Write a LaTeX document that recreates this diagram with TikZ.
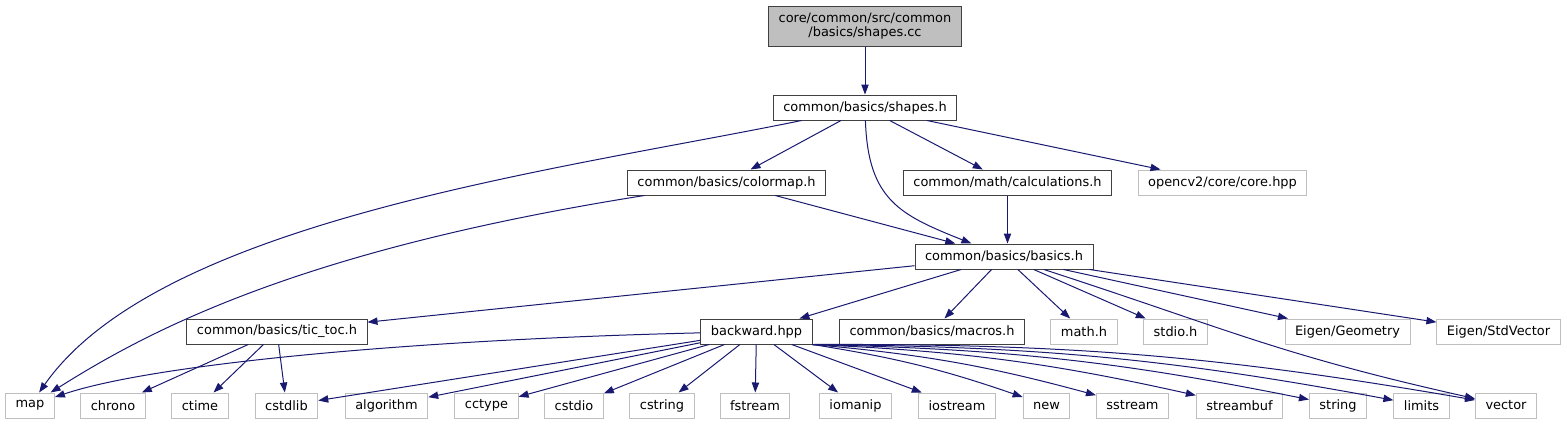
\documentclass[tikz,border=0pt]{standalone}
\usepackage{fontspec}
\setmainfont{DejaVu Sans}
\usetikzlibrary{arrows.meta}
\definecolor{edgeblue}{HTML}{191970}
\definecolor{boxgray}{HTML}{BFBFBF}

\begin{document}
\begin{tikzpicture}[x=0.75pt,y=-0.75pt,
    every node/.style={font=\fontsize{9.7}{11}\selectfont, inner xsep=7.5pt, minimum height=18.75pt, line width=0.75pt},
    hdr/.style={draw=black!75},
    sys/.style={draw=boxgray},
    dep/.style={draw=edgeblue, line width=0.75pt, -{Triangle[length=7.5pt,width=5.5pt]}}]
  \useasboundingbox (0,0) rectangle (1567,425);

  \node [hdr,fill=boxgray,align=center,minimum height=30pt] (shapescc) at (865,26) {core/common/src/common\\/basics/shapes.cc};
  \node [hdr] (shapesh) at (865,107.5) {common/basics/shapes.h};
  \node [hdr] (colormap) at (726.5,182.5) {common/basics/colormap.h};
  \node [hdr] (calculations) at (1007.5,182.5) {common/math/calculations.h};
  \node [sys] (opencv) at (1222.5,182.5) {opencv2/core/core.hpp};
  \node [hdr] (basics) at (1004,256.5) {common/basics/basics.h};
  \node [hdr] (tictoc) at (277,331.5) {common/basics/tic\_toc.h};
  \node [hdr] (backward) at (756.5,331.5) {backward.hpp};
  \node [hdr] (macros) at (932,331.5) {common/basics/macros.h};
  \node [sys] (mathh) at (1084,331.5) {math.h};
  \node [sys] (stdioh) at (1175.5,331.5) {stdio.h};
  \node [sys] (geometry) at (1347.5,331.5) {Eigen/Geometry};
  \node [sys] (stdvector) at (1498.5,331.5) {Eigen/StdVector};
  \foreach \n/\x in {map/30,chrono/113,ctime/200,cstdlib/286.5,algorithm/386.5,cctype/486.5,cstdio/574,cstring/662,fstream/755,iomanip/855.5,iostream/957,new/1046.5,sstream/1132.5,streambuf/1239.5,string/1338,limits/1421.5,vector/1506}
    \node [sys] (\n) at (\x,405.5) {\n};

  \draw [dep] (shapescc) -- (shapesh);
  \draw [dep] (shapesh) .. controls (560,170) and (160,220) .. (map);
  \draw [dep] (shapesh) -- (colormap);
  \draw [dep] (shapesh) .. controls (868,200) and (900,215) .. (basics);
  \draw [dep] (shapesh) -- (calculations);
  \draw [dep] (shapesh) -- (opencv);
  \draw [dep] (colormap) .. controls (300,250) and (150,330) .. (map);
  \draw [dep] (colormap) -- (basics);
  \draw [dep] (calculations) -- (calculations |- basics.north);
  \draw [dep] (basics) .. controls (1230,330) and (1280,355) .. (vector);
  \foreach \t in {tictoc,backward,macros,mathh,stdioh,geometry,stdvector}
    \draw [dep] (basics) -- (\t);
  \foreach \t in {chrono,ctime,cstdlib}
    \draw [dep] (tictoc) -- (\t);
  \draw [dep] (backward) .. controls (400,340) and (150,365) .. (map);
  \foreach \t in {cstdlib,algorithm,cctype,cstdio,cstring,fstream,iomanip,iostream}
    \draw [dep] (backward) -- (\t);
  \foreach \t in {new,sstream,streambuf,string,limits,vector}
    \draw [dep] (backward.south east) to [bend left=5] (\t);
\end{tikzpicture}
\end{document}
